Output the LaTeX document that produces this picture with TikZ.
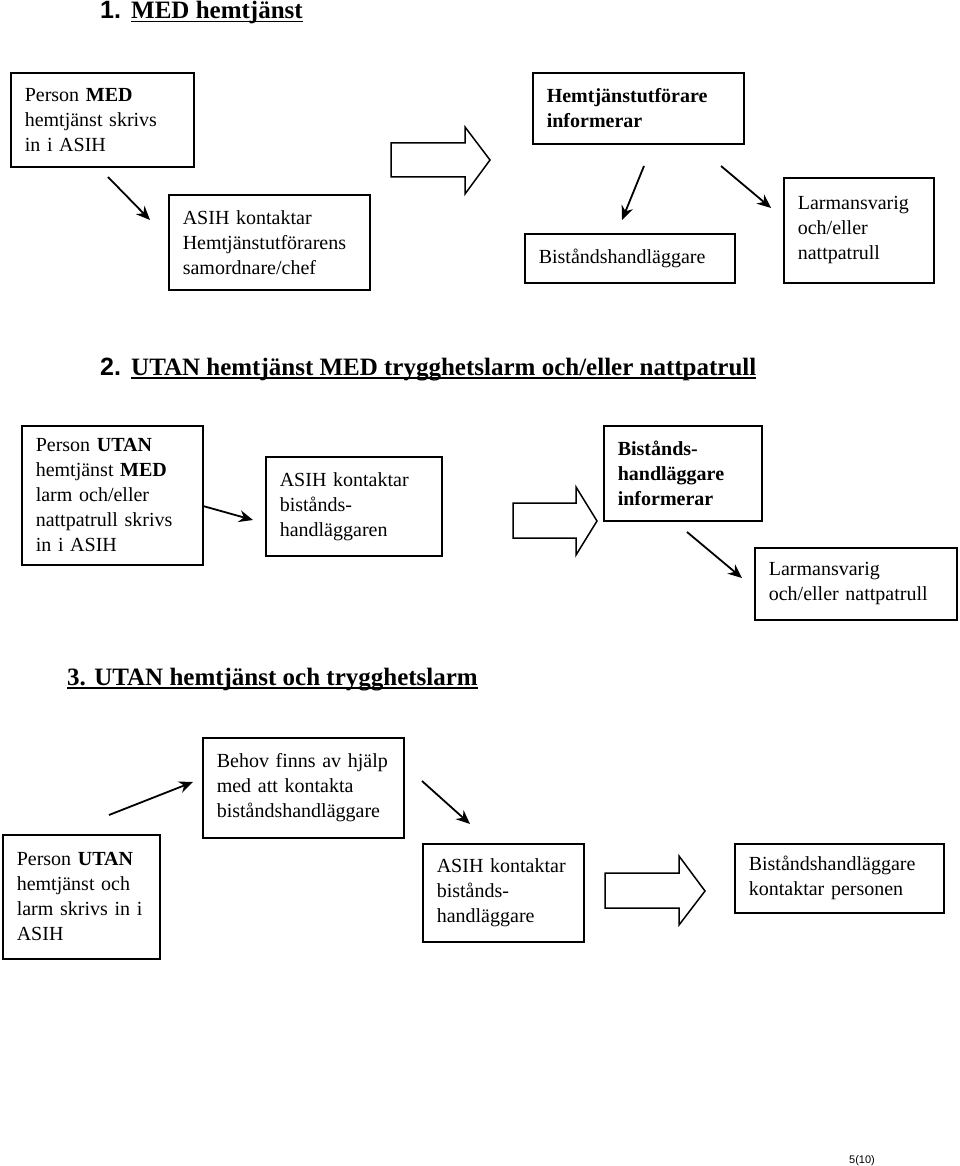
\documentclass[tikz,border=0pt]{standalone}
\usepackage{fontspec}
\setmainfont{Liberation Serif}
\newfontfamily\numfont{Liberation Sans}
\usepackage{tikz}
\usetikzlibrary{arrows.meta}

\newcommand\headline[1]{\setbox0\hbox{#1}\rlap{\rule[-3.5pt]{\wd0}{1.3pt}}\box0}

\tikzset{
    box/.style={draw, line width=1.6pt, anchor=north west, inner xsep=14pt, inner ysep=0pt,
        align=left, font=\fontsize{20}{25}\selectfont},
    arr/.style={-{Stealth[length=14pt,width=12pt]}, line width=1.8pt},
    hollow/.style={draw, line width=1.5pt, line join=miter, fill=white},
    heading/.style={anchor=base west, inner sep=0pt, font=\fontsize{25}{30}\selectfont\bfseries}
}

\begin{document}
\begin{tikzpicture}[x=1pt,y=-1pt]
        \useasboundingbox (0,0) rectangle (960,1166);

        % 1. MED hemtjanst
        \begin{scope}
            \node[heading] (headA) at (100,19) {\makebox[31pt][l]{\numfont 1.}\headline{MED hemtjänst}};
            \node[box, text width=155pt, minimum height=94pt] (personMed) at (10,72) {Person \textbf{MED}\\hemtjänst skrivs\\in i ASIH};
            \node[box, text width=173pt, minimum height=95pt] (asihUtf) at (168,194) {ASIH kontaktar\\Hemtjänstutförarens\\samordnare/chef};
            \node[box, text width=183pt, minimum height=71pt, font=\fontsize{20}{25}\selectfont\bfseries] (utfInfo) at (532,72) {Hemtjänstutförare\\informerar};
            \node[box, text width=182pt, minimum height=49pt] (bistA) at (524,233) {Biståndshandläggare};
            \node[box, text width=122pt, minimum height=105pt] (larmA) at (783,177) {Larmansvarig\\och/eller\\nattpatrull};
            \draw[hollow] (391,143) -- (465,143) -- (465,127) -- (490,160) -- (465,194) -- (465,177) -- (391,177) -- cycle;
            \coordinate (a1) at (108,177); \coordinate (a2) at (150,220);
            \coordinate (b1) at (644,166); \coordinate (b2) at (622,220);
            \coordinate (c1) at (721,166); \coordinate (c2) at (771,208);
            \draw[arr] (a1) -- (a2);
            \draw[arr] (b1) -- (b2);
            \draw[arr] (c1) -- (c2);
        \end{scope}

        % 2. UTAN hemtjanst MED trygghetslarm
        \begin{scope}
            \node[heading] (headB) at (100,375) {\makebox[31pt][l]{\numfont 2.}\headline{UTAN hemtjänst MED trygghetslarm och/eller nattpatrull}};
            \node[box, text width=153pt, minimum height=139pt] (personUtan) at (21,425) {Person \textbf{UTAN}\\hemtjänst \textbf{MED}\\larm och/eller\\nattpatrull skrivs\\in i ASIH};
            \node[box, text width=148pt, minimum height=99pt] (asihBist) at (265,456) {ASIH kontaktar\\bistånds-\\handläggaren};
            \node[box, text width=130pt, minimum height=95pt, font=\fontsize{20}{25}\selectfont\bfseries] (bistInfo) at (603,425) {Bistånds-\\handläggare\\informerar};
            \node[box, text width=174pt, minimum height=72pt] (larmB) at (754,547) {Larmansvarig\\och/eller nattpatrull};
            \draw[hollow] (513,503) -- (576,503) -- (576,487) -- (597,521) -- (576,555) -- (576,538) -- (513,538) -- cycle;
            \coordinate (d1) at (203,506); \coordinate (d2) at (253,520);
            \coordinate (e1) at (687,532); \coordinate (e2) at (742,578);
            \draw[arr] (d1) -- (d2);
            \draw[arr] (e1) -- (e2);
        \end{scope}

        % 3. UTAN hemtjanst och trygghetslarm
        \begin{scope}
            \node[heading] (headC) at (67,685) {\headline{3. UTAN hemtjänst och trygghetslarm}};
            \node[box, text width=129pt, minimum height=124pt] (personUtanB) at (2,834) {Person \textbf{UTAN}\\hemtjänst och\\larm skrivs in i\\ASIH};
            \node[box, text width=173pt, minimum height=100pt] (behov) at (202,737) {Behov finns av hjälp\\med att kontakta\\biståndshandläggare};
            \node[box, text width=133pt, minimum height=98pt] (asihBistB) at (422,843) {ASIH kontaktar\\bistånds-\\handläggare};
            \node[box, text width=181pt, minimum height=69pt] (bistKontakt) at (734,843) {Biståndshandläggare\\kontaktar personen};
            \draw[hollow] (605,873) -- (679,873) -- (679,856) -- (705,891) -- (679,925) -- (679,908) -- (605,908) -- cycle;
            \coordinate (f1) at (109,815); \coordinate (f2) at (193,782);
            \coordinate (g1) at (422,781); \coordinate (g2) at (470,824);
            \draw[arr] (f1) -- (f2);
            \draw[arr] (g1) -- (g2);
        \end{scope}

        \node[anchor=base, inner sep=0pt, font=\numfont\fontsize{11}{13}\selectfont] (pageNo) at (862,1163) {5(10)};
    \end{tikzpicture}
\end{document}
